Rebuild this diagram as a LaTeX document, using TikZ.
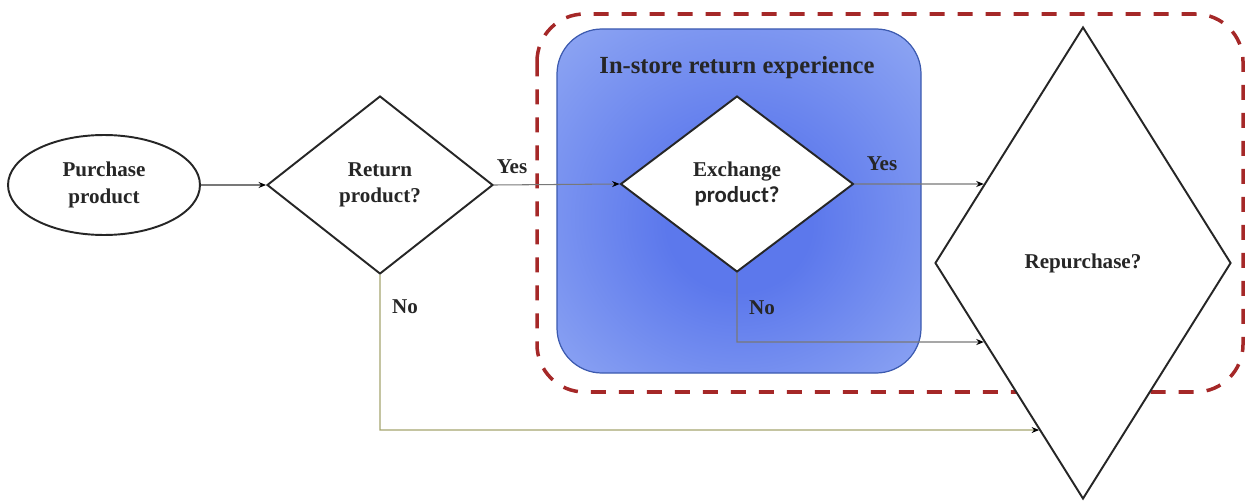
\documentclass[tikz,border=0pt]{standalone}
\usepackage{fontspec}
\setmainfont{Liberation Serif}
\newfontfamily\carlito{Carlito}
\usetikzlibrary{shapes.geometric,arrows.meta}
\definecolor{redd}{RGB}{165,40,40}
\definecolor{blueedge}{RGB}{60,90,175}
\definecolor{bluein}{RGB}{92,120,236}
\definecolor{blueout}{RGB}{162,184,246}
\definecolor{linegray}{RGB}{120,120,120}
\definecolor{lineolive}{RGB}{165,165,110}
\pgfdeclareradialshading{bluebox}{\pgfpoint{0bp}{-4bp}}{color(0bp)=(bluein); color(10bp)=(bluein); color(46bp)=(blueout); color(50bp)=(blueout)}
\begin{document}
\begin{tikzpicture}[x=0.02cm,y=-0.02cm,
  txt/.style={font=\fontsize{12}{15}\selectfont\bfseries, align=center, text=black!85},
  dia/.style={diamond, draw=black!85, line width=1.1pt, fill=white, inner sep=0pt, txt},
  conn/.style={draw=linegray, line width=0.6pt, -{Stealth[length=0.15cm,width=0.12cm,color=black]}},
  connno/.style={conn, draw=lineolive},
  lab/.style={txt}]
\useasboundingbox (0,0) rectangle (1246,500);
% red dashed boundary
\draw[redd, line width=2pt, dash pattern=on 0.3cm off 0.26cm, rounded corners=0.95cm]
  (537,14) rectangle (1243,392);
% blue in-store box
\shade[rounded corners=0.9cm, shading=bluebox] (557,29) rectangle (921,373);
\draw[blueedge, line width=0.7pt, rounded corners=0.9cm] (557,29) rectangle (921,373);
\node[txt, font=\fontsize{14}{17}\selectfont\bfseries] (title) at (737,68) {In-store return experience};

% nodes
\node[ellipse, draw=black!85, line width=1.1pt, fill=white, minimum width=3.84cm, minimum height=2cm, inner sep=0pt, txt] (buy) at (104,185) {Purchase\\product};
\node[dia, minimum width=4.52cm, minimum height=3.56cm] (ret) at (380,185) {Return\\product?};
\node[dia, minimum width=4.66cm, minimum height=3.52cm] (ex) at (737,184) {Exchange\\{\carlito\fontsize{13}{15}\selectfont\bfseries product?}};
\node[dia, minimum width=5.92cm, minimum height=9.44cm] (rep) at (1083,263) {Repurchase?};

% helper coordinates
\coordinate (yR) at (ex.east -| rep.east);
\coordinate (exNo) at (ex.south |- 0,342);
\coordinate (exNoR) at (exNo -| rep.east);
\coordinate (retNo) at (ret.south |- 0,430);
\coordinate (retNoR) at (retNo -| rep.east);

% connectors
\draw[conn] (buy.east) -- (ret.west);
\draw[conn] (ret.east) -- (ex.west);
\draw[conn] (ex.east) -- (intersection of ex.east--yR and rep.west--rep.north);
\draw[connno, draw=linegray] (ex.south) -- (exNo) -- (intersection of exNo--exNoR and rep.west--rep.south);
\draw[connno] (ret.south) -- (retNo) -- (intersection of retNo--retNoR and rep.west--rep.south);

% labels
\node[lab] (yes1) at (512,167) {Yes};
\node[lab] (no1) at (405,307) {No};
\node[lab] (yes2) at (882,164) {Yes};
\node[lab] (no2) at (762,308) {No};
\end{tikzpicture}
\end{document}
